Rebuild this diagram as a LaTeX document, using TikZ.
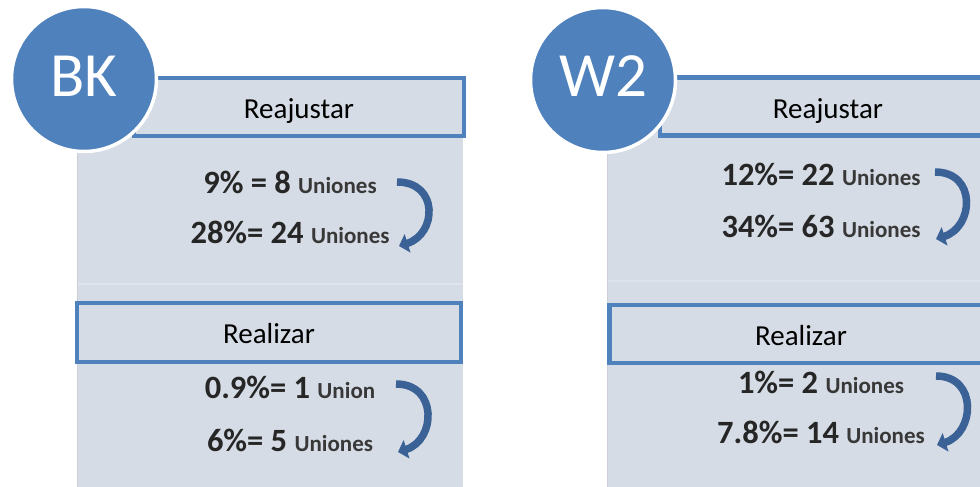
\documentclass[tikz,border=0pt]{standalone}
\usepackage{fontspec}
\setmainfont{Carlito}
\usetikzlibrary{arrows.meta}
\definecolor{accent}{HTML}{4F81BD}
\definecolor{panel}{HTML}{D6DCE5}
\definecolor{panelsep}{HTML}{DFE4EC}
\definecolor{paneledge}{HTML}{CBD0D8}
\definecolor{arrowc}{HTML}{3A6296}
\definecolor{numc}{HTML}{262626}
\definecolor{unic}{HTML}{383838}
\newcommand\unistyle{\fontsize{23}{23}\selectfont\color{unic}}
\begin{document}
\begin{tikzpicture}[x=1pt,y=-1pt,
  panelbg/.style={fill=panel, draw=none},
  headbox/.style={draw=accent, line width=4.5pt, fill=panel},
  badge/.style={circle, fill=accent, draw=white, line width=3.5pt, minimum size=145pt, inner sep=0pt},
  badgetext/.style={text=white, inner sep=0pt, font=\fontsize{63}{63}\selectfont},
  headlabel/.style={font=\fontsize{29}{29}\selectfont, text=black, anchor=base, inner sep=0pt},
  valline/.style={anchor=base, inner sep=0pt, text=numc, font=\bfseries\fontsize{32.5}{32}\selectfont},
  curvearrow/.style={draw=arrowc, line width=7.5pt, -{Triangle[length=9pt,width=19pt]}}]
\useasboundingbox (0,0) rectangle (980,487);
\clip (0,0) rectangle (980,487);

% ---------- left panel (BK) ----------
\fill[panel] (77,80) rectangle (463,487);
\draw[panelsep, line width=2pt] (77,283.5) -- (463,283.5);
\draw[paneledge, line width=1pt] (77.5,140) -- (77.5,487);
\draw[headbox] (134,78) rectangle (464,136);
\draw[headbox] (77,303) rectangle (461,362);
\node[badge] (bk) at (84,79) {};
\node[badgetext] (bktext) at (84,76) {BK};
\node[headlabel] (bkre) at (299,118) {Reajustar};
\node[headlabel] (bkrz) at (269,343) {Realizar};

\node[valline] (bk1) at (290,193) {9\% = 8 {\unistyle Uniones}};
\node[valline] (bk2) at (290,243) {28\%= 24 {\unistyle Uniones}};
\node[valline] (bk3) at (290,398) {0.9\%= 1 {\unistyle Union}};
\node[valline] (bk4) at (290,451) {6\%= 5 {\unistyle Uniones}};

\coordinate (bka1s) at (397,182);
\coordinate (bka1e) at (399,246);
\coordinate (bka2s) at (396,384);
\coordinate (bka2e) at (398,452);
\draw[curvearrow] (bka1s) .. controls +(42,0) and +(38,-12) .. (bka1e);
\draw[curvearrow] (bka2s) .. controls +(42,0) and +(38,-12) .. (bka2e);

% ---------- right panel (W2) ----------
\fill[panel] (607,80) rectangle (990,487);
\draw[panelsep, line width=2pt] (607,281) -- (990,281);
\draw[paneledge, line width=1pt] (607.5,140) -- (607.5,487);
\draw[headbox] (660,77.5) rectangle (995,135.5);
\draw[headbox] (609.5,305) rectangle (995,363);
\node[badge] (w2) at (603,80) {};
\node[badgetext] (w2text) at (603,76) {W2};
\node[headlabel] (w2re) at (828,118) {Reajustar};
\node[headlabel] (w2rz) at (801,345) {Realizar};

\node[valline] (w21) at (821,185) {12\%= 22 {\unistyle Uniones}};
\node[valline] (w22) at (821,237) {34\%= 63 {\unistyle Uniones}};
\node[valline] (w23) at (821,393) {1\%= 2 {\unistyle Uniones}};
\node[valline] (w24) at (821,443) {7.8\%= 14 {\unistyle Uniones}};

\coordinate (w2a1s) at (935,172);
\coordinate (w2a1e) at (936,239);
\coordinate (w2a2s) at (936,376);
\coordinate (w2a2e) at (937,445);
\draw[curvearrow] (w2a1s) .. controls +(42,0) and +(38,-12) .. (w2a1e);
\draw[curvearrow] (w2a2s) .. controls +(42,0) and +(38,-12) .. (w2a2e);
\end{tikzpicture}
\end{document}
